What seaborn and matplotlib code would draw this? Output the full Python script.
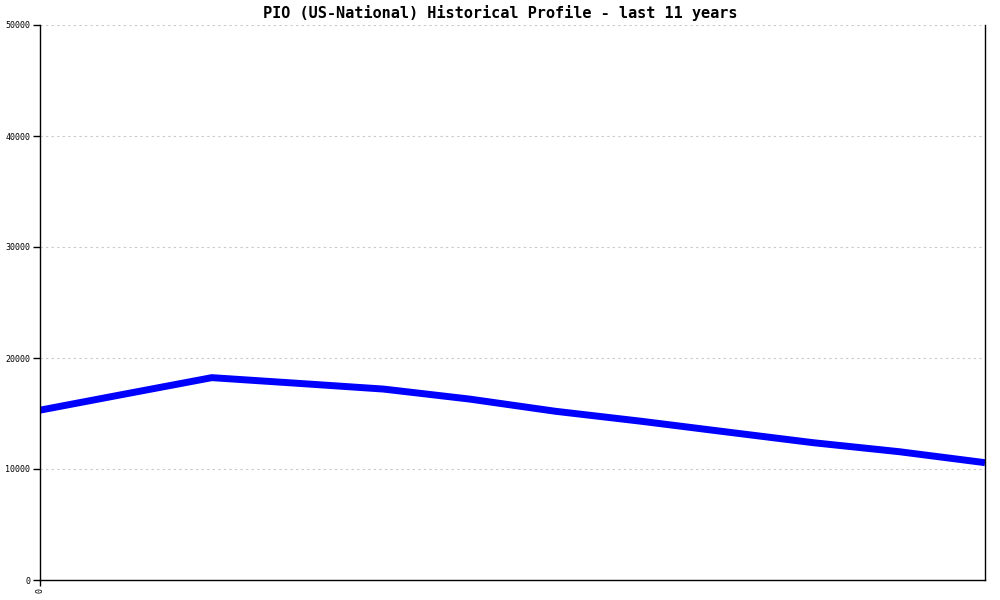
import numpy as np
import pandas as pd
import matplotlib
matplotlib.use("Agg")
import matplotlib.pyplot as plt
import seaborn as sns

# values (12 yearly points)
year_index = list(range(12))
counts = [15300, 16770, 18230, 17720, 17200, 16300, 15200, 14300, 13330, 12370, 11560, 10570]
y_ticks = [0, 10000, 20000, 30000, 40000, 50000]
title = "PIO (US-National) Historical Profile - last 11 years"

df = pd.DataFrame({"year": year_index, "count": counts})

sns.set_style("white")
plt.rcParams["font.family"] = ["DejaVu Sans Mono", "DejaVu Sans"]

fig = plt.figure(figsize=(10, 6), dpi=100)
ax = fig.add_axes([0.04, 1 - 580 / 600, 0.945, (580 - 25) / 600])

sns.lineplot(data=df, x="year", y="count", color="#0000ff", linewidth=5, ax=ax,
             solid_capstyle="butt")

ax.set_xlim(0, 11)
ax.set_ylim(0, 50000)
ax.set_yticks(y_ticks)
ax.set_yticklabels([str(v) for v in y_ticks], fontsize=6, color="black")
ax.set_xticks([0])
ax.set_xticklabels(["0"], fontsize=6, rotation=90, color="black")
ax.tick_params(axis="y", left=True, direction="out", length=5, width=1, color="black", pad=2)
ax.tick_params(axis="x", bottom=True, direction="out", length=4, width=1, color="black", pad=2)

for v in y_ticks[1:]:
    ax.axhline(v, color="#c8c8c8", linestyle=(0, (2, 3)), linewidth=0.8, zorder=0)

ax.set_xlabel("")
ax.set_ylabel("")
for side in ["left", "right", "bottom"]:
    ax.spines[side].set_visible(True)
    ax.spines[side].set_color("black")
    ax.spines[side].set_linewidth(1)
ax.spines["top"].set_visible(False)

fig.text(0.5, 1 - 13 / 600, title, ha="center", va="center",
         fontsize=11, fontweight="bold", color="black")

fig.savefig("out.png", dpi=100)
